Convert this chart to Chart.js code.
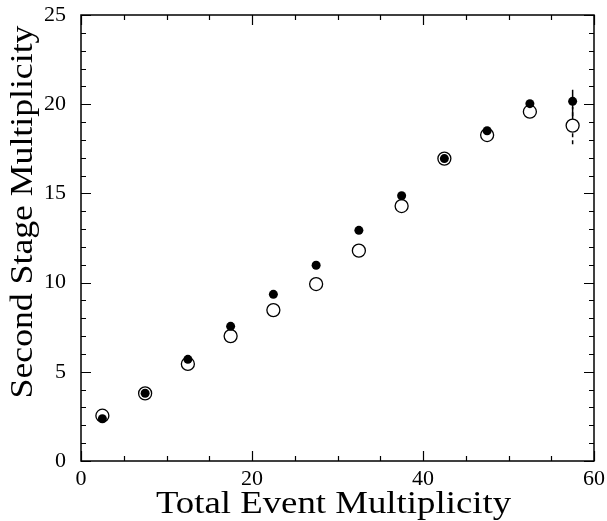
<!DOCTYPE html>
<html>
<head>
<meta charset="utf-8">
<script src="https://cdn.jsdelivr.net/npm/chart.js@4"></script>
<style>
  html, body { margin: 0; padding: 0; background: #fff; }
  #wrap { width: 607px; height: 521px; }
</style>
</head>
<body>
<div id="wrap"><canvas id="chart"></canvas></div>
<script>
(function(){
const xValues = [2.5, 7.5, 12.5, 17.5, 22.5, 27.5, 32.5, 37.5, 42.5, 47.5, 52.5, 57.5];
const filledValues = [2.37, 3.80, 5.70, 7.55, 9.34, 10.97, 12.93, 14.87, 16.95, 18.51, 20.03, 20.16];
const openValues = [2.54, 3.79, 5.44, 7.00, 8.46, 9.92, 11.79, 14.29, 16.95, 18.27, 19.58, 18.80];
const filledErrLow = [0, 0, 0, 0, 0, 0, 0, 0, 0, 0, 0, 1.0];
const filledErrHigh = [0, 0, 0, 0, 0, 0, 0, 0, 0, 0, 0, 0.65];
const openErrLow = [0, 0, 0, 0, 0, 0, 0, 0, 0, 0, 0, 1.05];
const openErrHigh = [0, 0, 0, 0, 0, 0, 0, 0, 0, 0, 0, 1.05];
const xTitle = 'Total Event Multiplicity';
const yTitle = 'Second Stage Multiplicity';

const font = "'Liberation Serif', 'Times New Roman', serif";

function toPoints(ys) {
    return xValues.map((x, i) => ({x: x, y: ys[i]}));
}

// inward ticks on all four sides, plus the box
const frameTicks = {
    id: 'frameTicks',
    afterDraw(chart) {
        const ctx = chart.ctx;
        const a = chart.chartArea;
        const xs = chart.scales.x;
        const ys = chart.scales.y;
        ctx.save();
        ctx.strokeStyle = '#000';
        ctx.lineWidth = 1.5;
        ctx.strokeRect(a.left, a.top, a.right - a.left, a.bottom - a.top);
        ctx.lineWidth = 1.2;
        ctx.beginPath();
        for (let v = xs.min; v <= xs.max; v += 5) {
            const px = Math.round(xs.getPixelForValue(v)) + 0.5;
            const len = v % 20 === 0 ? 10 : 5;
            ctx.moveTo(px, a.bottom); ctx.lineTo(px, a.bottom - len);
            ctx.moveTo(px, a.top); ctx.lineTo(px, a.top + len);
        }
        for (let v = ys.min; v <= ys.max; v += 1) {
            const py = Math.round(ys.getPixelForValue(v)) + 0.5;
            const len = v % 5 === 0 ? 10 : 5;
            ctx.moveTo(a.left, py); ctx.lineTo(a.left + len, py);
            ctx.moveTo(a.right, py); ctx.lineTo(a.right - len, py);
        }
        ctx.stroke();
        ctx.restore();
    }
};

// axis titles, a bit wider than plain Times like the original
const axisTitles = {
    id: 'axisTitles',
    afterDraw(chart) {
        const ctx = chart.ctx;
        const a = chart.chartArea;
        const stretch = 1.15;
        ctx.save();
        ctx.fillStyle = '#000';
        ctx.font = '32px ' + font;
        ctx.textAlign = 'center';
        ctx.textBaseline = 'alphabetic';
        ctx.save();
        ctx.translate((a.left + a.right) / 2 - 4, 513);
        ctx.scale(stretch, 1);
        ctx.fillText(xTitle, 0, 0);
        ctx.restore();
        ctx.save();
        ctx.translate(32, 212);
        ctx.rotate(-Math.PI / 2);
        ctx.scale(stretch * 0.97, 1);
        ctx.fillText(yTitle, 0, 0);
        ctx.restore();
        ctx.restore();
    }
};

const errorBars = {
    id: 'errorBars',
    beforeDatasetsDraw(chart) {
        const ctx = chart.ctx;
        const xs = chart.scales.x;
        const ys = chart.scales.y;
        ctx.save();
        ctx.strokeStyle = '#000';
        ctx.lineWidth = 1.5;
        chart.data.datasets.forEach((ds) => {
            ctx.setLineDash(ds.errDash || []);
            ds.data.forEach((p, i) => {
                const lo = ds.errLow[i], hi = ds.errHigh[i];
                if (!lo && !hi) return;
                const px = xs.getPixelForValue(p.x);
                ctx.beginPath();
                ctx.moveTo(px, ys.getPixelForValue(p.y - lo));
                ctx.lineTo(px, ys.getPixelForValue(p.y + hi));
                ctx.stroke();
            });
        });
        ctx.restore();
    }
};

new Chart(document.getElementById('chart'), {
    type: 'scatter',
    data: {
        datasets: [{
            label: 'filled',
            data: toPoints(filledValues),
            errLow: filledErrLow,
            errHigh: filledErrHigh,
            pointRadius: 4.5,
            pointBackgroundColor: '#000',
            pointBorderColor: '#000',
            pointBorderWidth: 0
        }, {
            label: 'open',
            data: toPoints(openValues),
            errLow: openErrLow,
            errHigh: openErrHigh,
            errDash: [4, 3],
            pointRadius: 6.5,
            pointBackgroundColor: '#fff',
            pointBorderColor: '#000',
            pointBorderWidth: 1.3
        }]
    },
    options: {
        responsive: true,
        maintainAspectRatio: false,
        animation: false,
        layout: { padding: { top: 15, right: 13, left: 0, bottom: 0 } },
        plugins: {
            legend: { display: false },
            tooltip: { enabled: false }
        },
        scales: {
            x: {
                type: 'linear',
                min: 0,
                max: 60,
                grid: { display: false, drawTicks: false },
                border: { display: false },
                ticks: {
                    stepSize: 20,
                    padding: 5,
                    color: '#000',
                    font: { family: font, size: 22 }
                },
                title: { display: false },
                afterFit(scale) {
                    scale.height = 60;
                    scale.paddingLeft = 0;
                    scale.paddingRight = 0;
                }
            },
            y: {
                type: 'linear',
                min: 0,
                max: 25,
                grid: { display: false, drawTicks: false },
                border: { display: false },
                ticks: {
                    stepSize: 5,
                    padding: 15,
                    color: '#000',
                    font: { family: font, size: 22 }
                },
                title: { display: false },
                afterFit(scale) {
                    scale.width = 81;
                    scale.paddingTop = 0;
                    scale.paddingBottom = 0;
                }
            }
        }
    },
    plugins: [errorBars, frameTicks, axisTitles]
});
}());
</script>
</body>
</html>
